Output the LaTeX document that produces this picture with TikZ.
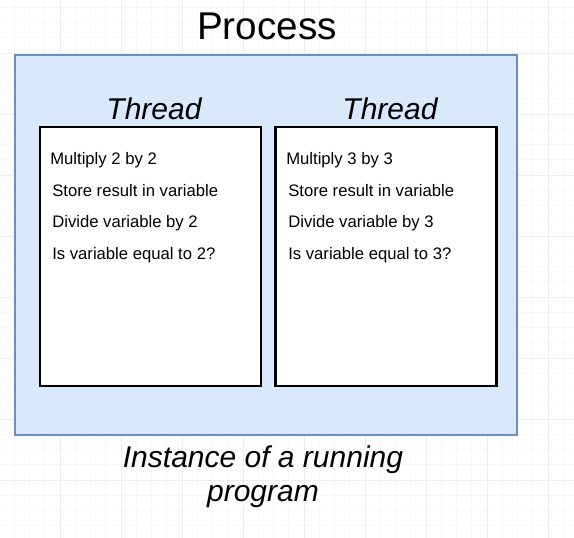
\documentclass[tikz,border=0pt]{standalone}
\usepackage{fontspec}
\setmainfont{Liberation Sans}
\usepackage{xcolor}
\usepackage{tikz}
\usetikzlibrary{positioning}

\definecolor{procfill}{HTML}{DAE8FC}
\definecolor{procline}{HTML}{6C8EBF}

\begin{document}
\begin{tikzpicture}[x=0.75pt, y=-0.75pt, font=\fontsize{12.5}{14}\selectfont]
		\tikzstyle{procbox} = [draw=procline, fill=procfill, line width=1.5pt, rectangle, minimum width=376.5pt, minimum height=285pt, inner sep=0pt]
		\tikzstyle{thread} = [draw=black, fill=white, line width=1.8pt, rectangle, minimum width=166pt, minimum height=194.25pt, inner sep=0pt]
		\tikzstyle{stepline} = [anchor=base west, inner sep=0pt]
		\tikzstyle{title} = [anchor=base, inner sep=0pt, font=\fontsize{22.5}{25.5}\selectfont\itshape]
		
		% background grid
		\useasboundingbox (0,0) rectangle (574,538);
		\begin{scope}[shift={(-1,-8)}]
			\draw[black!3, line width=0.4pt] (0,0) grid[step=11.4375pt] (580,550);
			\draw[black!7, line width=0.5pt] (0,0) grid[step=45.75pt] (580,550);
		\end{scope}
		
		\node[procbox]	at (266, 245)	(proc)	{};
		\node[anchor=base, inner sep=0pt, font=\fontsize{29}{32}\selectfont]	at (267, 40)	(ptitle)	{Process};
		
		\node[thread]	at (150.5, 256.5)	(t1)	{};
		\node[thread]	at (386, 256.5)		(t2)	{};
		\node[title]	at (154, 120)	(t1title)	{Thread};
		\node[title]	at (390, 120)	(t2title)	{Thread};
		
		\node[stepline]	at (50, 165)	(a1)	{Multiply 2 by 2};
		\node[stepline]	at (52, 196.3)	(a2)	{Store result in variable};
		\node[stepline]	at (52, 227.6)	(a3)	{Divide variable by 2};
		\node[stepline]	at (52, 259)	(a4)	{Is variable equal to 2?};
		
		\node[stepline]	at (286, 165)	(b1)	{Multiply 3 by 3};
		\node[stepline]	at (288, 196.3)	(b2)	{Store result in variable};
		\node[stepline]	at (288, 227.6)	(b3)	{Divide variable by 3};
		\node[stepline]	at (288, 259)	(b4)	{Is variable equal to 3?};
		
		\node[title, align=center]	at (263, 501)	(note)	{Instance of a running\\program};
	\end{tikzpicture}
\end{document}
